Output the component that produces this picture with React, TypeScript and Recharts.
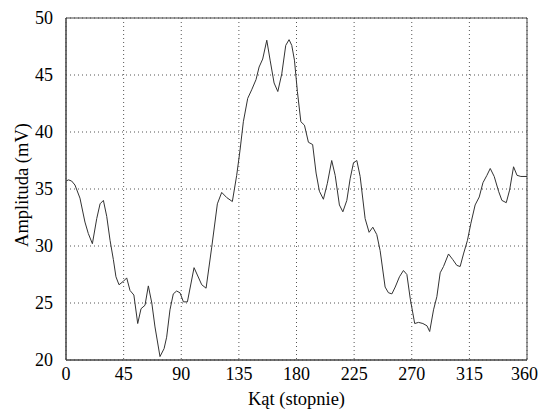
import React from "react"
import {
  LineChart,
  Line,
  XAxis,
  YAxis,
  CartesianGrid,
  ReferenceArea,
} from "recharts"

// angle in degrees
const katy = [
  0, 2, 4.4, 7, 10.9, 14.8, 17.4, 20.6, 24, 26.6, 29.2, 31.8, 34.4, 37, 39, 41.4,
  44.8, 47.4, 50, 53, 56, 58.6, 61.7, 64.3, 67, 69.5, 73.4, 76.6, 78.6, 81.2, 83.8,
  86.4, 89, 91.7, 94.8, 100, 106, 109.4, 113.8, 118.2, 121.6, 125.5, 129.9, 133.3,
  135.9, 138.5, 141.9, 145, 148.4, 150.8, 153.6, 156.8, 159.4, 162.5, 165.4, 168.5,
  171.6, 174.2, 176.3, 178.4, 180.7, 183.4, 186.2, 189.3, 192.6, 195.3, 197.9, 201,
  204.1, 207.5, 210.2, 213.5, 216.2, 219.3, 221.9, 224.5, 227.1, 229.7, 233.6,
  236.7, 239.6, 242.7, 245.3, 249.2, 251.8, 254.5, 257.1, 260.4, 263.5, 266.2,
  268.8, 272.3, 275.3, 278.7, 281.9, 284, 287, 289.6, 292.2, 294.8, 298.7, 302.1,
  305.2, 307.8, 310.4, 313.5, 316.2, 319.5, 322.7, 325.6, 328.7, 331.3, 334.4,
  337.8, 340.4, 343.8, 346.4, 349.5, 352.2, 355.2, 360,
]

// amplitude in mV
const amplituda = [
  35.7, 35.8, 35.7, 35.35, 34.2, 32.1, 31.1, 30.2, 32.4, 33.7, 34.0, 32.6, 30.5,
  28.8, 27.3, 26.6, 26.9, 27.2, 26.1, 25.7, 23.2, 24.5, 24.8, 26.5, 25.0, 22.9,
  20.3, 21.0, 22.0, 24.4, 25.8, 26.05, 25.9, 25.1, 25.1, 28.1, 26.6, 26.3, 29.9,
  33.7, 34.7, 34.25, 33.9, 36.2, 38.4, 40.9, 42.95, 43.7, 44.6, 45.7, 46.4, 48.05,
  46.3, 44.3, 43.55, 45.1, 47.6, 48.1, 47.6, 46.3, 43.55, 40.9, 40.6, 39.1, 38.9,
  36.4, 34.8, 34.1, 35.5, 37.5, 36.2, 33.6, 33.0, 34.0, 35.9, 37.3, 37.5, 36.1,
  32.4, 31.2, 31.65, 31.0, 29.6, 26.4, 25.9, 25.8, 26.4, 27.3, 27.85, 27.5, 25.4,
  23.2, 23.3, 23.2, 23.0, 22.5, 24.4, 25.55, 27.65, 28.2, 29.3, 28.8, 28.3, 28.2,
  29.3, 30.5, 32.0, 33.6, 34.3, 35.55, 36.2, 36.8, 36.1, 34.8, 34.0, 33.8, 34.9,
  36.95, 36.2, 36.1, 36.1,
]

const xTicks = [0, 45, 90, 135, 180, 225, 270, 315, 360]
const yTicks = [20, 25, 30, 35, 40, 45, 50]

const data = katy.map((k, i) => ({ k, a: amplituda[i] }))

const font = "Liberation Serif"
const tickStyle = { fontFamily: font, fontSize: 18, fill: "#000" }

export default function App() {
  return (
    <div
      style={{
        position: "absolute",
        left: 0,
        top: 0,
        background: "#fff",
        fontFamily: "'Liberation Serif', serif",
      }}
    >
      <LineChart
        width={538}
        height={412}
        data={data}
        margin={{ top: 18, right: 11, bottom: 22, left: 0 }}
        style={{ fontFamily: "'Liberation Serif', serif" }}
      >
        <CartesianGrid stroke="#555" strokeDasharray="1 3" />
        <XAxis
          dataKey="k"
          type="number"
          domain={[0, 360]}
          ticks={xTicks}
          tickLine={false}
          axisLine={{ stroke: "#444" }}
          tick={tickStyle}
          tickMargin={1}
          height={30}
          label={{
            value: "Kąt (stopnie)",
            position: "insideBottom",
            offset: -15,
            fontFamily: font,
            fontSize: 18.5,
            fill: "#000",
          }}
        />
        <YAxis
          type="number"
          domain={[20, 50]}
          ticks={yTicks}
          tickLine={false}
          axisLine={{ stroke: "#444" }}
          tick={tickStyle}
          tickMargin={7}
          width={66}
          label={{
            value: "Amplituda (mV)",
            angle: -90,
            position: "insideLeft",
            offset: 21,
            dy: -4,
            fontFamily: font,
            fontSize: 18.5,
            fill: "#000",
            style: { textAnchor: "middle" },
          }}
        />
        <ReferenceArea
          x1={0}
          x2={360}
          y1={20}
          y2={50}
          fill="none"
          stroke="#444"
          strokeWidth={1}
        />
        <Line
          type="linear"
          dataKey="a"
          stroke="#333"
          strokeWidth={1}
          dot={false}
          isAnimationActive={false}
        />
      </LineChart>
    </div>
  )
}
